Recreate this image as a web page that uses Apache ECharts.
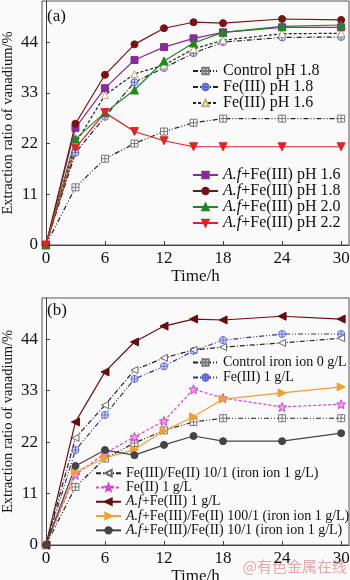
<!DOCTYPE html>
<html>
<head>
<meta charset="utf-8">
<script src="https://cdn.jsdelivr.net/npm/echarts@6/dist/echarts.min.js"></script>
<style>
  html, body { margin: 0; padding: 0; background: #fafafa; }
  #chart { width: 350px; height: 580px; }
</style>
</head>
<body>
<div id="chart"></div>
<script>
// sampling times (h)
var times = [0, 3, 6, 9, 12, 15, 18, 24, 30];
var xTicks = [0, 6, 12, 18, 24, 30];
var yTicks = [0, 11, 22, 33, 44];

// panel (a)
var controlPh18 = [0, 12.5, 18.7, 22.0, 24.6, 26.5, 27.4, 27.4, 27.4];
var fe3Ph18 = [0, 20.0, 27.8, 35.3, 38.4, 41.6, 44.0, 45.0, 45.1];
var fe3Ph16 = [0, 22.0, 32.5, 37.1, 39.0, 42.5, 44.4, 45.8, 45.9];
var afPh16 = [0, 25.4, 34.0, 40.1, 42.9, 44.8, 46.1, 47.2, 47.2];
var afPh18 = [0, 26.3, 36.9, 43.5, 47.0, 48.3, 48.1, 49.0, 48.8];
var afPh20 = [0, 23.0, 28.7, 33.6, 39.9, 43.8, 46.1, 47.4, 47.7];
var afPh22 = [0, 21.0, 28.7, 24.6, 22.6, 21.3, 21.3, 21.3, 21.3];

// panel (b)
var controlB = [0, 12.4, 18.5, 21.8, 24.5, 26.3, 27.1, 27.1, 27.1];
var fe3B = [0, 20.3, 27.8, 35.5, 38.2, 41.5, 43.8, 45.1, 45.1];
var fe3fe2B = [0, 22.9, 29.9, 37.4, 40.0, 41.7, 42.3, 43.2, 44.2];
var fe2B = [0, 15.0, 19.6, 23.1, 26.5, 33.3, 31.4, 29.5, 30.1];
var afFe3B = [0, 26.3, 37.0, 43.4, 46.8, 48.3, 48.1, 48.9, 48.3];
var afFe100B = [0, 15.6, 18.6, 20.4, 24.4, 27.4, 31.2, 32.5, 33.8];
var afFe10B = [0, 16.9, 20.3, 19.2, 21.4, 23.3, 22.2, 22.2, 23.9];

var serif = '"Liberation Serif", "DejaVu Serif", serif';

var sqCross = 'path://M0,0L10,0L10,10L0,10Z M5,0L5,10 M0,5L10,5';
var ciCross = 'path://M5,0A5,5,0,1,1,4.99,0Z M5,0L5,10 M0,5L10,5';
var star = 'path://M5,0L6.23,3.3L9.76,3.45L7,5.65L7.94,9.05L5,7.1L2.06,9.05L3,5.65L0.24,3.45L3.77,3.3Z';
var triLeft = 'path://M0,5L10,0L10,10Z';
var triRight = 'path://M10,5L0,0L0,10Z';
var triDown = 'path://M0,0L10,0L5,10Z';

function pairs(vals) {
    return times.map(function (t, i) { return [t, vals[i]]; });
}

function mkSeries(name, vals, idx, o) {
    return {
        name: name,
        type: 'line',
        xAxisIndex: idx,
        yAxisIndex: idx,
        data: pairs(vals),
        symbol: o.symbol,
        symbolSize: o.size || 7,
        showSymbol: true,
        lineStyle: { color: o.line, width: 1.2, type: o.dash || 'solid' },
        itemStyle: { color: o.fill, borderColor: o.border || o.fill, borderWidth: 1 },
        emphasis: { disabled: true },
        animation: false
    };
}

function fmtName(name) {
    if (name.indexOf('A.f') === 0) return '{i|A.f}' + name.slice(3);
    return name;
}

function mkLegend(names, left, top, size, lh) {
    return {
        orient: 'vertical',
        left: left,
        top: top,
        data: names,
        itemWidth: 25,
        itemHeight: 8,
        itemGap: 0,
        padding: 0,
        selectedMode: false,
        formatter: fmtName,
        textStyle: {
            fontFamily: serif, fontSize: size, color: '#111', lineHeight: lh,
            rich: { i: { fontFamily: serif, fontSize: size, fontStyle: 'italic', color: '#111', lineHeight: lh } }
        }
    };
}

function mkX(idx) {
    return {
        type: 'value', gridIndex: idx, min: -0.4, max: 30.8,
        name: 'Time/h', nameLocation: 'middle', nameGap: 23, nameMoveOverlap: false,
        nameTextStyle: { fontFamily: serif, fontSize: 17, color: '#111' },
        axisLine: { lineStyle: { color: '#444', width: 1 } },
        axisTick: { inside: true, length: 4, customValues: xTicks, lineStyle: { color: '#444' } },
        axisLabel: { customValues: xTicks, margin: 5, fontFamily: serif, fontSize: 17, color: '#111' },
        splitLine: { show: false }
    };
}

function mkY(idx, max) {
    return {
        type: 'value', gridIndex: idx, min: 0, max: max,
        name: 'Extraction ratio of vanadium/%', nameLocation: 'middle', nameGap: 26, nameMoveOverlap: false,
        nameTextStyle: { fontFamily: serif, fontSize: 14.5, color: '#111' },
        axisLine: { lineStyle: { color: '#444', width: 1 } },
        axisTick: { inside: true, length: 4, customValues: yTicks, lineStyle: { color: '#444' } },
        axisLabel: { customValues: yTicks, margin: 4, fontFamily: serif, fontSize: 17, color: '#111' },
        splitLine: { show: false }
    };
}

var seriesA = [
    mkSeries('Control pH 1.8', controlPh18, 0, { symbol: sqCross, fill: '#fff', border: '#777', line: '#222', dash: [5, 2, 1, 2, 1, 2] }),
    mkSeries('Fe(III) pH 1.8', fe3Ph18, 0, { symbol: ciCross, fill: '#dfe3ff', border: '#5566dd', line: '#222', dash: [5, 2, 1, 2] }),
    mkSeries('Fe(III) pH 1.6', fe3Ph16, 0, { symbol: 'triangle', fill: '#fff', border: '#c2b070', line: '#222', dash: [3, 2] }),
    mkSeries('A.f+Fe(III) pH 1.6', afPh16, 0, { symbol: 'rect', fill: '#8a2a9a', line: '#8a2a9a' }),
    mkSeries('A.f+Fe(III) pH 1.8', afPh18, 0, { symbol: 'circle', fill: '#7a1212', line: '#7a1212' }),
    mkSeries('A.f+Fe(III) pH 2.0', afPh20, 0, { symbol: 'triangle', fill: '#1d8a1d', line: '#1d8a1d', size: 8 }),
    mkSeries('A.f+Fe(III) pH 2.2', afPh22, 0, { symbol: triDown, fill: '#e02424', line: '#e02424', size: 8 })
];

var seriesB = [
    mkSeries('Control iron ion 0 g/L', controlB, 1, { symbol: sqCross, fill: '#fff', border: '#777', line: '#222', dash: [5, 2, 1, 2, 1, 2] }),
    mkSeries('Fe(III) 1 g/L', fe3B, 1, { symbol: ciCross, fill: '#dfe3ff', border: '#5566dd', line: '#33338a', dash: [5, 2, 1, 2, 1, 2] }),
    mkSeries('Fe(III)/Fe(II) 10/1 (iron ion 1 g/L)', fe3fe2B, 1, { symbol: triLeft, fill: '#fff', border: '#666', line: '#222', dash: [5, 2, 1, 2] }),
    mkSeries('Fe(II) 1 g/L', fe2B, 1, { symbol: star, fill: '#f0a0f0', border: '#d83cd8', line: '#e040e0', dash: [3, 2], size: 9 }),
    mkSeries('A.f+Fe(III) 1 g/L', afFe3B, 1, { symbol: triLeft, fill: '#6a0c0c', line: '#6a0c0c', size: 8 }),
    mkSeries('A.f+Fe(III)/Fe(II) 100/1 (iron ion 1 g/L)', afFe100B, 1, { symbol: triRight, fill: '#f0a030', line: '#f0a030', size: 8 }),
    mkSeries('A.f+Fe(III)/Fe(II) 10/1 (iron ion 1 g/L)', afFe10B, 1, { symbol: 'circle', fill: '#444', line: '#444' })
];

var chart = echarts.init(document.getElementById('chart'), null, { renderer: 'canvas' });
chart.setOption({
    backgroundColor: '#fafafa',
    animation: false,
    grid: [
        { left: 42, right: 1, top: 1, height: 244, show: true, borderColor: '#555', borderWidth: 1, outerBoundsMode: 'none' },
        { left: 42, right: 1, top: 298, height: 247, show: true, borderColor: '#555', borderWidth: 1, outerBoundsMode: 'none' }
    ],
    xAxis: [mkX(0), mkX(1)],
    yAxis: [mkY(0, 52.9), mkY(1, 52.8)],
    legend: [
        mkLegend(['Control pH 1.8', 'Fe(III) pH 1.8', 'Fe(III) pH 1.6'], 192, 63, 16, 16),
        mkLegend(['A.f+Fe(III) pH 1.6', 'A.f+Fe(III) pH 1.8', 'A.f+Fe(III) pH 2.0', 'A.f+Fe(III) pH 2.2'], 192, 167, 16, 16),
        mkLegend(['Control iron ion 0 g/L', 'Fe(III) 1 g/L'], 192, 355, 14, 15),
        mkLegend(['Fe(III)/Fe(II) 10/1 (iron ion 1 g/L)', 'Fe(II) 1 g/L', 'A.f+Fe(III) 1 g/L',
            'A.f+Fe(III)/Fe(II) 100/1 (iron ion 1 g/L)', 'A.f+Fe(III)/Fe(II) 10/1 (iron ion 1 g/L)'], 95, 466, 14, 14.3)
    ],
    graphic: [
        { type: 'text', left: 47, top: 8, style: { text: '(a)', font: '17px ' + serif, fill: '#111' } },
        { type: 'text', left: 47, top: 302, style: { text: '(b)', font: '17px ' + serif, fill: '#111' } },
        { type: 'text', right: 3, top: 559, style: { text: '@有色金属在线', font: '15px "Noto Sans CJK SC"', fill: '#eaa6a6' } }
    ],
    series: seriesA.concat(seriesB)
});
</script>
</body>
</html>
